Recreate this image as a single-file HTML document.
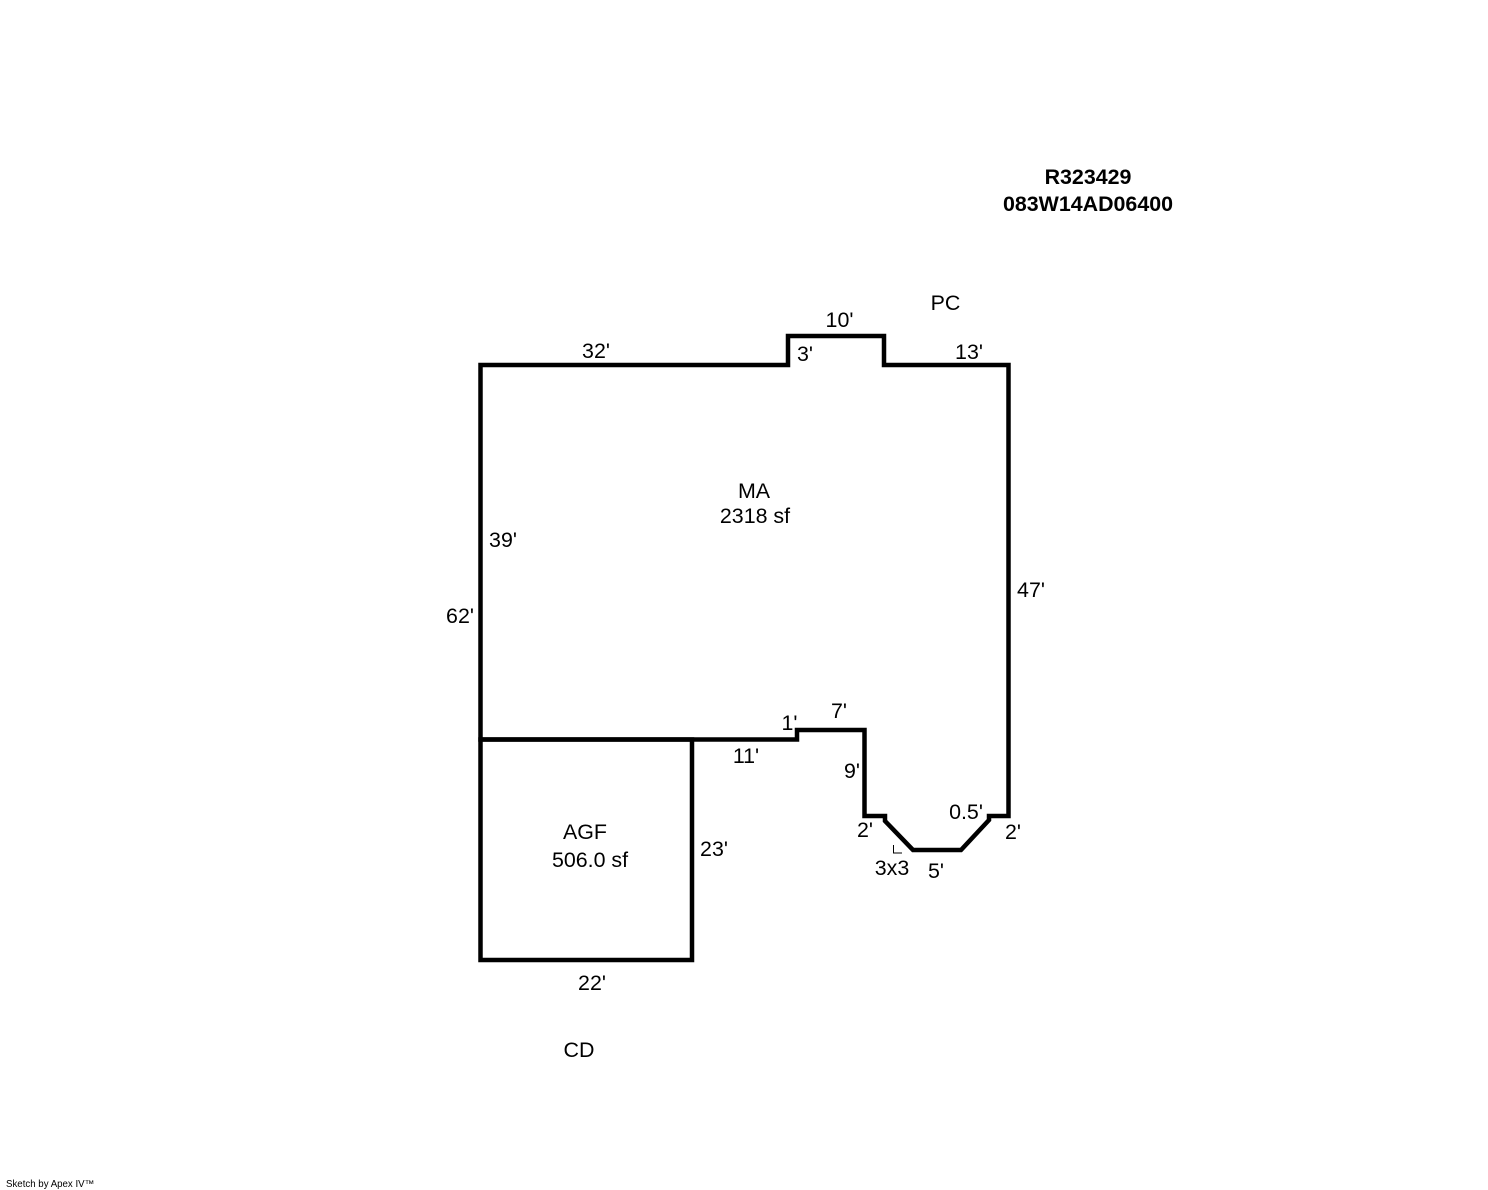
<!DOCTYPE html>
<html><head><meta charset="utf-8"><style>
html,body{margin:0;padding:0;background:#fff}
svg{display:block}
text{font-family:"Liberation Sans",Arial,sans-serif;font-size:21.400px;fill:#000;text-anchor:middle}
</style></head><body>
<svg width="1488" height="1190" viewBox="0 0 1488 1190" xmlns="http://www.w3.org/2000/svg">
<g fill="none" stroke="#000" stroke-width="4.500" stroke-linejoin="miter">
<path d="M480.500 739.500V365H788V336H884V365H1008.500V816H989V820L961 850H913L885 821V816H864.500V730H797V739.500H480.500Z"/>
<path d="M480.500 739.500H692V960H480.500Z"/>
</g>
<path d="M893.500 845V853H902" fill="none" stroke="#000" stroke-width="1"/>
<text x="1088" y="184" style="font-weight:bold">R323429</text>
<text x="1088" y="211" style="font-weight:bold">083W14AD06400</text>
<text x="945.500" y="310">PC</text>
<text x="839.500" y="327">10'</text>
<text x="596" y="358">32'</text>
<text x="805" y="361">3'</text>
<text x="969" y="359">13'</text>
<text x="754" y="498">MA</text>
<text x="755" y="523">2318 sf</text>
<text x="503" y="547">39'</text>
<text x="460" y="623">62'</text>
<text x="1031" y="597">47'</text>
<text x="789.500" y="730">1'</text>
<text x="839" y="718">7'</text>
<text x="746" y="763">11'</text>
<text x="852" y="778">9'</text>
<text x="966" y="819">0.5'</text>
<text x="865" y="837">2'</text>
<text x="1013" y="839">2'</text>
<text x="892" y="875">3x3</text>
<text x="936" y="878">5'</text>
<text x="585" y="839">AGF</text>
<text x="590" y="867">506.0 sf</text>
<text x="714" y="856">23'</text>
<text x="592" y="990">22'</text>
<text x="579" y="1057">CD</text>
<text x="6" y="1187" style="font-size:9.700px;text-anchor:start">Sketch by Apex IV™</text>
</svg>
</body></html>
